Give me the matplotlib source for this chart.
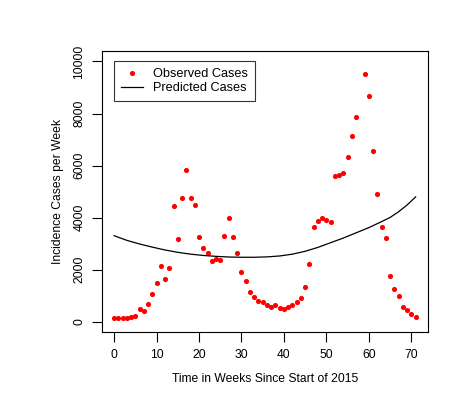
import matplotlib
matplotlib.use("Agg")
import matplotlib.pyplot as plt
import numpy as np

plt.rcParams['font.family'] = ['Liberation Sans', 'DejaVu Sans']

# observed weekly incidence (week 58 not shown in the chart)
weeks = np.arange(0, 72)
observed = [
    130, 130, 130, 130, 170, 240, 480, 430, 700, 1080,
    1500, 2130, 1630, 2080, 4460, 3190, 4770, 5840, 4770, 4490,
    3260, 2820, 2660, 2320, 2410, 2360, 3280, 3970, 3240, 2660,
    1930, 1550, 1160, 970, 820, 770, 660, 590, 650, 550,
    510, 580, 660, 750, 900, 1320, 2240, 3660, 3880, 3980,
    3930, 3840, 5610, 5650, 5720, 6340, 7150, 7870, np.nan, 9520,
    8680, 6570, 4920, 3650, 3230, 1770, 1270, 1000, 580, 470,
    290, 200,
]

# predicted curve
pred_weeks = [0, 3, 6, 9, 12, 15, 18, 21, 24, 27, 30, 33, 36, 39, 42, 45,
              48, 51, 54, 57, 60, 63, 65, 67, 69, 71]
predicted = [3310, 3130, 2990, 2870, 2760, 2670, 2600, 2550, 2515, 2490,
             2480, 2480, 2495, 2530, 2600, 2710, 2860, 3040, 3220, 3420,
             3620, 3850, 4010, 4230, 4490, 4800]

xticks = [0, 10, 20, 30, 40, 50, 60, 70]
yticks = [0, 2000, 4000, 6000, 8000, 10000]

fig = plt.figure(figsize=(4.64, 3.99), dpi=100)
ax = fig.add_axes([0.2198, 0.1672, 0.702, 0.705])

ax.plot(weeks, observed, 'o', color='red', markersize=3.7, markeredgewidth=0,
        label='Observed Cases')
ax.plot(pred_weeks, predicted, '-', color='black', linewidth=0.9,
        label='Predicted Cases')

ax.set_xlim(-2.84, 73.84)
ax.set_ylim(-400, 10400)
ax.set_xticks(xticks)
ax.set_yticks(yticks)
ax.set_yticklabels([str(v) for v in yticks], rotation=90, va='center')
ax.tick_params(direction='out', length=7, width=0.8, labelsize=8.7, pad=5)

for s in ax.spines.values():
    s.set_linewidth(0.8)

ax.set_xlabel('Time in Weeks Since Start of 2015', fontsize=8.7, labelpad=9)
ax.set_ylabel('Incidence Cases per Week', fontsize=8.7, labelpad=7)

leg = ax.legend(loc='upper left', bbox_to_anchor=(0.036, 0.963), fontsize=9.2,
                frameon=True, fancybox=False, borderaxespad=0, handlelength=1.75,
                handletextpad=0.8, borderpad=0.55, labelspacing=0.15)
leg.get_frame().set_edgecolor('black')
leg.get_frame().set_linewidth(0.8)

fig.savefig('out.png', dpi=100)
